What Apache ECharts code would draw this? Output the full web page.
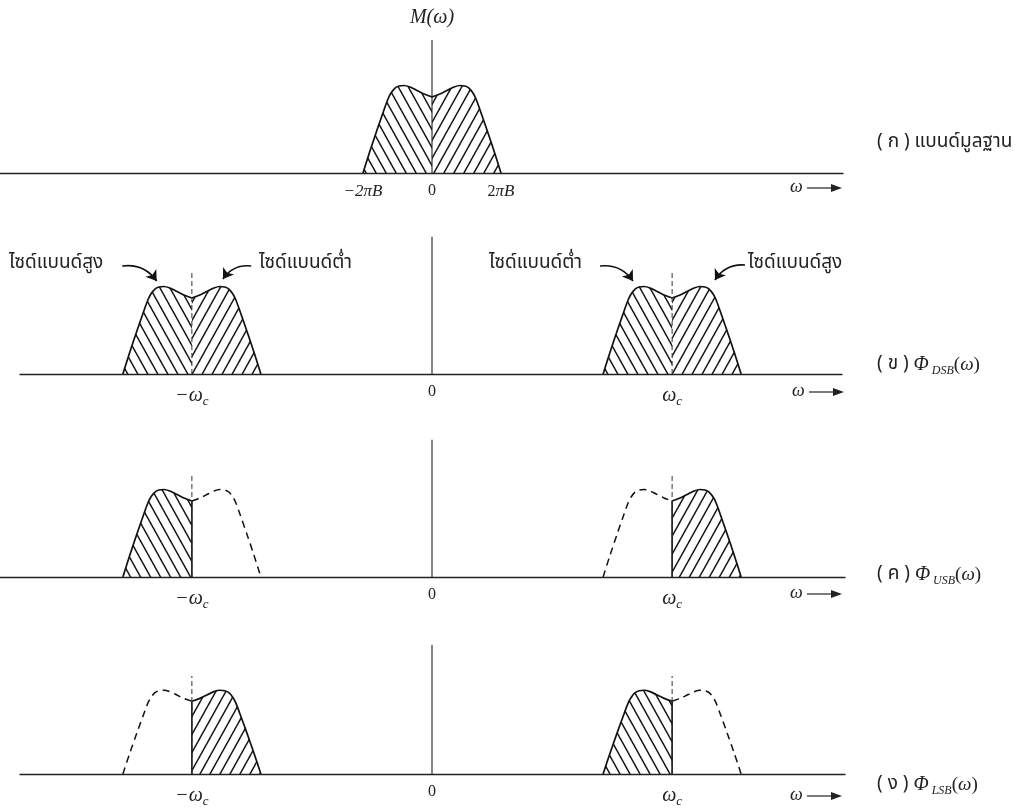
<!DOCTYPE html>
<html>
<head>
<meta charset="utf-8">
<script src="https://cdn.jsdelivr.net/npm/echarts@6.0.0/dist/echarts.min.js"></script>
<style>
html,body{margin:0;padding:0;background:#fff;}
#chart{width:1032px;height:808px;}
</style>
</head>
<body>
<div id="chart"></div>
<script>
// left half of the message spectrum: offset in units of 2πB, height relative to the peak
var shapeX = [-1.0, -0.899, -0.797, -0.696, -0.638, -0.594, -0.536, -0.478, -0.406, -0.319, -0.232, -0.116, 0];
var shapeY = [0, 0.251, 0.491, 0.72, 0.846, 0.914, 0.971, 0.994, 1.0, 0.983, 0.949, 0.903, 0.869];
var wc = 3.48;                       // carrier, in units of 2πB
var carrierLine = 1.17;              // dashed line height at ±ωc
var axisTop = [1.52, 1.57, 1.57, 1.54];
var tickVals = [[-1, 0, 1], [-wc, 0, wc], [-wc, 0, wc], [-wc, 0, wc]];
var tickText = [
  ['{i|−2πB}', '{n|0}', '{n|2}{i|πB}'],
  ['{w|−ω}{s|c}', '{n|0}', '{w|ω}{s|c}'],
  ['{w|−ω}{s|c}', '{n|0}', '{w|ω}{s|c}'],
  ['{w|−ω}{s|c}', '{n|0}', '{w|ω}{s|c}']
];
// pieces per panel: centre, half (-1 left / 1 right), hatched or dashed
var panelA = [[0, -1, 'h'], [0, 1, 'h']];
var panelB = [[-wc, -1, 'h'], [-wc, 1, 'h'], [wc, -1, 'h'], [wc, 1, 'h']];
var panelC = [[-wc, -1, 'h'], [-wc, 1, 'd'], [wc, -1, 'd'], [wc, 1, 'h']];
var panelD = [[-wc, -1, 'd'], [-wc, 1, 'h'], [wc, -1, 'h'], [wc, 1, 'd']];
var panels = [panelA, panelB, panelC, panelD];
var titles = ['( ก ) แบนด์มูลฐาน', '( ข ) ', '( ค ) ', '( ง ) '];
var subs = ['', 'DSB', 'USB', 'LSB'];

// layout
var PX = 69, CX = 432, PY = 87.5;
var baseY = [173, 374, 577, 780];
var lineL = [0, 20, 0, 20];
var lineR = [843, 842, 845, 845];
var GH = 140;

function makeHatch(dir) {
  var w = 10, h = 18;
  var cv = document.createElement('canvas');
  cv.width = w; cv.height = h;
  var g = cv.getContext('2d');
  g.strokeStyle = '#151515';
  g.lineWidth = 1.5;
  for (var k = -1; k <= 1; k++) {
    g.beginPath();
    if (dir < 0) { g.moveTo(k * w - 2, -3.6); g.lineTo(k * w + w + 2, h + 3.6); }
    else { g.moveTo(k * w - 2, h + 3.6); g.lineTo(k * w + w + 2, -3.6); }
    g.stroke();
  }
  return cv;
}
var hatchL = makeHatch(-1), hatchR = makeHatch(1);

function half(c, side) {
  var d = [];
  if (side < 0) {
    for (var i = 0; i < shapeX.length; i++) d.push([c + shapeX[i], shapeY[i]]);
  } else {
    for (var j = shapeX.length - 1; j >= 0; j--) d.push([c - shapeX[j], shapeY[j]]);
  }
  return d;
}

var serif = '"Liberation Serif", "DejaVu Serif", serif';
var thai = '"Noto Sans Thai", "Loma", "Garuda", "Tlwg Typo", sans-serif';
var grids = [], xAxes = [], yAxes = [], series = [];
var richLab = {
  i: {fontFamily: serif, fontStyle: 'italic', fontSize: 17, color: '#222'},
  n: {fontFamily: serif, fontSize: 16, color: '#222'},
  w: {fontFamily: serif, fontStyle: 'italic', fontSize: 20, lineHeight: 24, color: '#222'},
  s: {fontFamily: serif, fontStyle: 'italic', fontSize: 13, lineHeight: 13, verticalAlign: 'bottom', color: '#222'}
};

panels.forEach(function (pieces, p) {
  grids.push({left: lineL[p], top: baseY[p] - GH, width: lineR[p] - lineL[p], height: GH});
  (function (pi) {
    xAxes.push({
      type: 'value', gridIndex: pi,
      min: (lineL[pi] - CX) / PX, max: (lineR[pi] - CX) / PX,
      axisLine: {show: true, onZero: false, lineStyle: {color: '#222', width: 1.3}},
      axisTick: {show: false}, splitLine: {show: false},
      axisLabel: {
        show: true, customValues: tickVals[pi], margin: 10, rich: richLab,
        formatter: function (v) {
          var k = tickVals[pi].indexOf(v);
          return k < 0 ? '' : tickText[pi][k];
        }
      }
    });
  })(p);
  yAxes.push({type: 'value', gridIndex: p, min: 0, max: GH / PY, show: false});

  // vertical axis at ω = 0
  series.push({type: 'line', xAxisIndex: p, yAxisIndex: p, showSymbol: false, silent: true,
    data: [[0, 0], [0, axisTop[p]]], lineStyle: {color: '#222', width: 1.1}});

  pieces.forEach(function (pc) {
    var hatched = pc[2] === 'h';
    var s = {
      type: 'line', xAxisIndex: p, yAxisIndex: p, showSymbol: false, silent: true,
      smooth: 0.3, data: half(pc[0], pc[1]),
      lineStyle: {color: '#111', width: hatched ? 1.7 : 1.5, type: hatched ? 'solid' : [7, 5]}
    };
    if (hatched) s.areaStyle = {color: {image: pc[1] < 0 ? hatchL : hatchR, repeat: 'repeat'}, opacity: 1};
    series.push(s);
    // solid edge where a single sideband is cut at the carrier
    if (hatched && p >= 2) {
      series.push({type: 'line', xAxisIndex: p, yAxisIndex: p, showSymbol: false, silent: true,
        data: [[pc[0], 0], [pc[0], shapeY[shapeY.length - 1]]], lineStyle: {color: '#111', width: 1.6}});
    }
  });
  // dashed carrier lines
  if (p > 0) {
    [-wc, wc].forEach(function (c) {
      series.push({type: 'line', xAxisIndex: p, yAxisIndex: p, showSymbol: false, silent: true,
        data: [[c, 0], [c, carrierLine]], lineStyle: {color: '#333', width: 1, type: [5, 3]}});
    });
  }
});

// curved arrows pointing at the sidebands (panel ข)
series.push({
  type: 'lines', coordinateSystem: 'cartesian2d', xAxisIndex: 1, yAxisIndex: 1, silent: true,
  symbol: ['none', 'arrow'], symbolSize: 10,
  lineStyle: {color: '#111', width: 1.6, opacity: 1},
  data: [
    {coords: [[-4.49, 1.234], [-3.99, 1.063]], lineStyle: {curveness: 0.3}},
    {coords: [[-2.62, 1.234], [-3.03, 1.086]], lineStyle: {curveness: -0.3}},
    {coords: [[2.435, 1.234], [2.913, 1.063]], lineStyle: {curveness: 0.3}},
    {coords: [[4.536, 1.246], [4.101, 1.074]], lineStyle: {curveness: -0.3}}
  ]
});

var graphic = [];
function txt(x, y, t, align, font) {
  graphic.push({type: 'text', x: x, y: y, silent: true,
    style: {text: t, font: font || ('19px ' + thai), fill: '#222', align: align || 'left', verticalAlign: 'middle'}});
}
txt(432, 18, 'M(ω)', 'center', 'italic 20px ' + serif);
txt(9, 264, 'ไซด์แบนด์สูง');
txt(259, 264, 'ไซด์แบนด์ต่ำ');
txt(489, 264, 'ไซด์แบนด์ต่ำ');
txt(748, 264, 'ไซด์แบนด์สูง');

// ω → labels
var omegaX = [790, 792, 790, 790];
var omegaY = [187, 391, 593, 795];
omegaX.forEach(function (x, p) {
  var y = omegaY[p];
  txt(x, y, 'ω', 'left', 'italic 18px ' + serif);
  graphic.push({type: 'line', silent: true, shape: {x1: x + 17, y1: y + 1, x2: x + 45, y2: y + 1}, style: {stroke: '#222', lineWidth: 1.2}});
  graphic.push({type: 'polygon', silent: true, shape: {points: [[x + 52, y + 1], [x + 41, y - 3], [x + 41, y + 5]]}, style: {fill: '#222'}});
});

// panel titles
var titleY = [143, 365, 575, 785];
titles.forEach(function (t, p) {
  if (p === 0) { txt(877, titleY[p], t, 'left', '19px ' + thai); return; }
  graphic.push({type: 'text', x: 877, y: titleY[p], silent: true, style: {
    text: '{t|' + t + '}{f|Φ}{s| ' + subs[p] + '}{n|(}{w|ω}{n|)}',
    verticalAlign: 'middle', align: 'left',
    rich: {
      t: {font: '19px ' + thai, fill: '#222', lineHeight: 24},
      f: {font: 'italic 20px ' + serif, fill: '#222', lineHeight: 24},
      s: {font: 'italic 12px ' + serif, fill: '#222', lineHeight: 12, verticalAlign: 'bottom'},
      n: {font: '19px ' + serif, fill: '#222', lineHeight: 24},
      w: {font: 'italic 19px ' + serif, fill: '#222', lineHeight: 24}
    }
  }});
});

var chart = echarts.init(document.getElementById('chart'));
chart.setOption({
  animation: false,
  backgroundColor: '#fff',
  grid: grids, xAxis: xAxes, yAxis: yAxes,
  series: series,
  graphic: graphic
});
</script>
</body>
</html>
